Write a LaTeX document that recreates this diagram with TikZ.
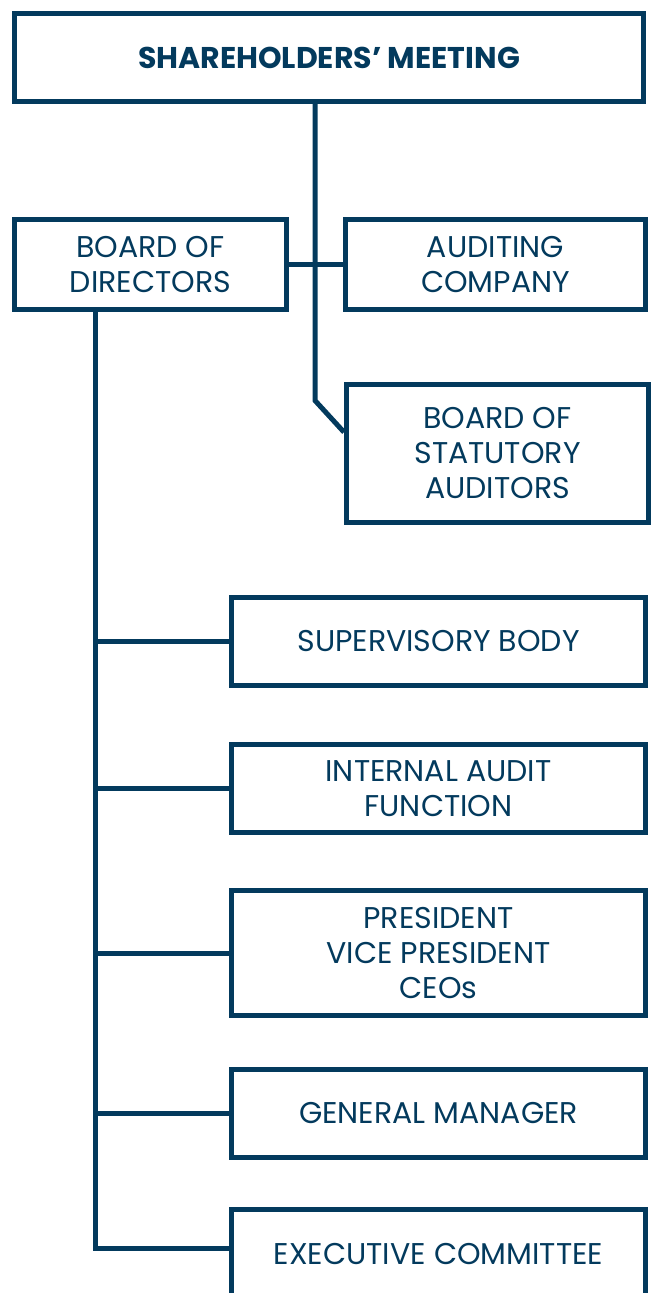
\documentclass[tikz,border=0pt]{standalone}
\usepackage{fontspec}
\setmainfont{Poppins}
\definecolor{boardblue}{RGB}{3,58,93}
\tikzset{
  unit/.style={draw=boardblue, line width=3.75pt, text=boardblue, align=center,
    inner sep=0pt, font=\fontsize{22.5}{26.25}\selectfont},
  link/.style={draw=boardblue, line width=3.75pt},
}
\begin{document}
\begin{tikzpicture}[x=0.75pt,y=-0.75pt]
  \useasboundingbox (0,0) rectangle (657,1293);
  % top and governing bodies
  \node[unit, minimum width=629*0.75pt, minimum height=88*0.75pt,
    font=\bfseries\fontsize{22.5}{26.25}\selectfont] (SM) at (329,57.5) {SHAREHOLDERS' MEETING};
  \node[unit, minimum width=272*0.75pt, minimum height=90*0.75pt] (BoD) at (150.5,264.5) {BOARD OF\\DIRECTORS};
  \node[unit, minimum width=300*0.75pt, minimum height=90*0.75pt] (AC) at (495.5,264.5) {AUDITING\\COMPANY};
  \node[unit, minimum width=302*0.75pt, minimum height=138*0.75pt] (BSA) at (497.5,453.5) {BOARD OF\\STATUTORY\\AUDITORS};
  % units under the board
  \foreach \name/\ypos/\hgt/\txt in {SB/641.5/88/{SUPERVISORY BODY},
      IA/788.5/88/{INTERNAL AUDIT\\FUNCTION},
      PR/953/125/{PRESIDENT\\VICE PRESIDENT\\CEOs},
      GM/1113.5/88/{GENERAL MANAGER},
      EC/1253.5/88/{EXECUTIVE COMMITTEE}}
    \node[unit, minimum width=414*0.75pt, minimum height=\hgt*0.75pt] (\name) at (438.5,\ypos) {\txt};
  % connectors
  \coordinate (bend) at (315,400.5);
  \coordinate (trunk) at (95,0);
  \draw[link] (SM.south -| bend) -- (bend) -- ([yshift=16pt]BSA.west);
  \draw[link] (BoD) -- (AC);
  \draw[link] (BoD.south -| trunk) |- ([yshift=4pt]EC.west);
  \foreach \name in {SB, IA, PR, GM}
    \draw[link] (trunk |- \name.west) -- (\name.west);
\end{tikzpicture}
\end{document}
